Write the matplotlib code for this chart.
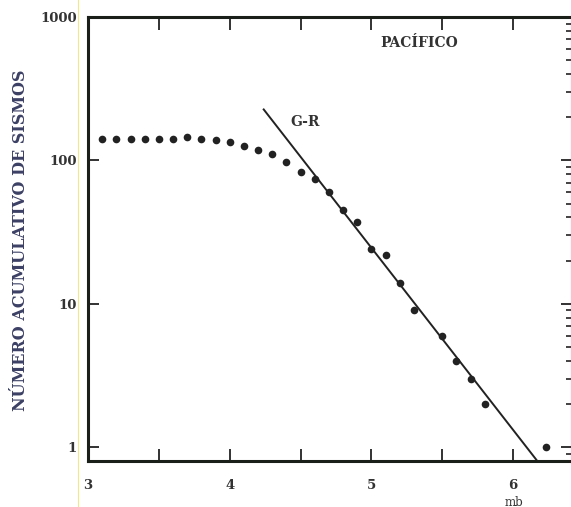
import numpy as np
import matplotlib
matplotlib.use('Agg')
import matplotlib.pyplot as plt
from matplotlib.lines import Line2D
from matplotlib.ticker import LogLocator, NullFormatter, FixedLocator

# cumulative number of earthquakes vs magnitude (Pacific)
mag = [3.1, 3.2, 3.3, 3.4, 3.5, 3.6, 3.7, 3.8, 3.9, 4.0, 4.1, 4.2, 4.3, 4.4,
       4.5, 4.6, 4.7, 4.8, 4.9, 5.0, 5.1, 5.2, 5.3, 5.5, 5.6, 5.7, 5.8, 6.23]
counts = [141, 141, 141, 141, 141, 142, 146, 142, 139, 134, 126, 118, 111, 97,
          83, 74, 60, 45, 37, 24, 22, 14, 9, 6, 4, 3, 2, 1]

# Gutenberg-Richter line: log N = a - b*m
gr_a = 7.74
gr_b = 1.27
gr_mag = [4.24, 6.25]

xticks = [3, 4, 5, 6]
yticks = [1, 10, 100, 1000]
ytick_labels = ['1', '10', '100', '1000']

txt = '#333333'
serif = 'DejaVu Serif'

fig = plt.figure(figsize=(5.71, 5.07), dpi=100)
ax = fig.add_axes([88/571, 1 - 461/507, 484/571, 444/507])

ax.plot(mag, counts, 'o', color='#222222', ms=5.5, mec='none')
gr_n = [10 ** (gr_a - gr_b * m) for m in gr_mag]
ax.plot(gr_mag, gr_n, color='#222222', lw=1.4)

ax.set_yscale('log')
ax.set_xlim(3, 3 + 484/141.7)
ax.set_ylim(0.8, 1000)

ax.set_xticks(xticks)
ax.set_xticklabels([str(t) for t in xticks])
ax.xaxis.set_minor_locator(FixedLocator([3.5, 4.5, 5.5]))
ax.set_yticks(yticks)
ax.set_yticklabels(ytick_labels)
ax.yaxis.set_minor_locator(LogLocator(base=10, subs=np.arange(2, 10)))
ax.yaxis.set_minor_formatter(NullFormatter())

ax.tick_params(axis='x', which='both', direction='in', top=True, bottom=True,
               length=9, width=1.3, pad=13, labelsize=9.5, colors='#222222',
               labelcolor=txt)
ax.tick_params(axis='y', which='major', direction='in', left=True, right=True,
               length=8, width=1.3, pad=8, labelsize=9.5, colors='#222222',
               labelcolor=txt)
ax.tick_params(axis='y', which='minor', direction='in', left=False, right=True,
               length=4, width=1.2, colors='#222222')
for lab in ax.get_xticklabels() + ax.get_yticklabels():
    lab.set_family(serif)
    lab.set_weight('bold')

for s in ax.spines.values():
    s.set_linewidth(2.2)
    s.set_color('#1a1f1a')

fig.text(419/571, 1 - 43/507, 'PACÍFICO', ha='center', va='center',
         fontsize=10, family=serif, weight='bold', color=txt)
fig.text(305/571, 1 - 122/507, 'G-R', ha='center', va='center', fontsize=10,
         family=serif, weight='bold', color=txt)
fig.text(514/571, 1 - 502/507, 'mb', ha='center', va='center', fontsize=8.5,
         family=serif, color=txt)
fig.text(21/571, 1 - 240/507, 'NÚMERO ACUMULATIVO DE SISMOS', rotation=90,
         ha='center', va='center', fontsize=11.5, family=serif, weight='bold',
         color='#3c4064')

# faint yellow scan line at the left of the page
fig.add_artist(Line2D([78/571, 78/571], [0, 1], color='#efe98a', lw=0.8))

fig.savefig('out.png', dpi=100)
